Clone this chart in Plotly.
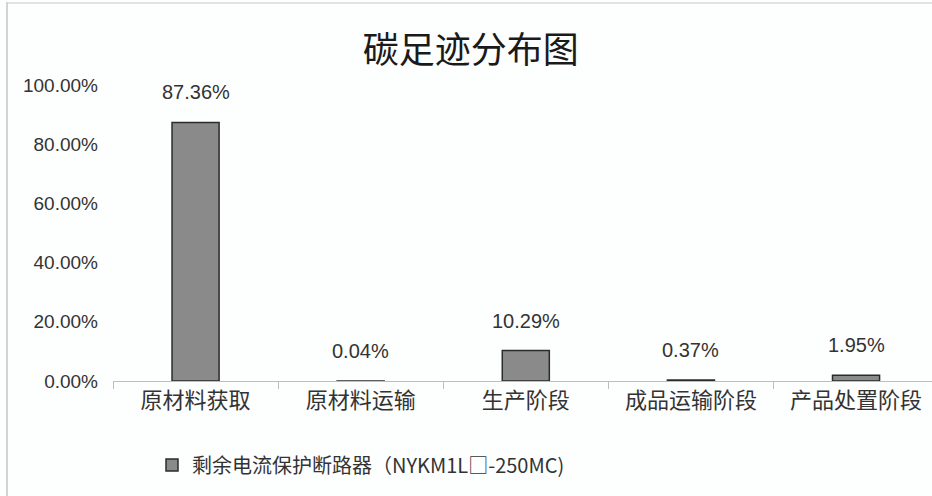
import plotly.graph_objects as go

categories = ["原材料获取", "原材料运输", "生产阶段", "成品运输阶段", "产品处置阶段"]
values = [87.36, 0.04, 10.29, 0.37, 1.95]
value_labels = ["87.36%", "0.04%", "10.29%", "0.37%", "1.95%"]
series_name = "剩余电流保护断路器（NYKM1L□-250MC)"
title_text = "碳足迹分布图"
y_ticks = [0, 20, 40, 60, 80, 100]
y_tick_labels = ["0.00%", "20.00%", "40.00%", "60.00%", "80.00%", "100.00%"]

FONT = "Liberation Sans, Arial, Noto Sans CJK SC, sans-serif"
CJK = "Noto Sans CJK SC, sans-serif"

fig = go.Figure()
fig.add_trace(go.Bar(
    x=categories, y=values, name=series_name, width=0.285,
    marker=dict(color="#8a8a8a", line=dict(color="#2b2b2b", width=1.5)),
    showlegend=True,
))

for c, v, t in zip(categories, values, value_labels):
    fig.add_annotation(x=c, y=v, text=t, showarrow=False, yanchor="middle",
                       yshift=30, font=dict(family=FONT, size=20, color="#333333"))

fig.update_layout(
    width=932, height=496,
    margin=dict(l=113, r=0, t=85, b=115),
    paper_bgcolor="#fdfefe", plot_bgcolor="#fdfefe",
    title=dict(text=title_text, x=0.505, xanchor="center", y=1 - 50 / 496, yanchor="middle",
               yref="container", font=dict(family=CJK, size=36, color="#1a1a1a")),
    xaxis=dict(range=[-0.5, 4.46], showline=True, linecolor="#bdbdbd", linewidth=1,
               ticks="outside", tickson="boundaries", ticklen=7, tickcolor="#bdbdbd",
               tickfont=dict(family=CJK, size=22, color="#333333"), showgrid=False),
    yaxis=dict(range=[0, 100], tickvals=y_ticks, ticktext=y_tick_labels, showgrid=False,
               zeroline=False, showline=False, ticks="", ticklabelstandoff=14,
               tickfont=dict(family=FONT, size=19, color="#333333")),
    legend=dict(orientation="h", xref="container", yref="container", x=152 / 932,
                y=1 - 465 / 496, xanchor="left", yanchor="middle",
                font=dict(family=CJK, size=20, color="#333333"), bgcolor="rgba(0,0,0,0)"),
    shapes=[
        dict(type="line", xref="paper", yref="paper", x0=-106 / 819, x1=-106 / 819,
             y0=(381 - 2) / 296, y1=(381 - 500) / 296, line=dict(color="#c4c4c4", width=1.5)),
        dict(type="line", xref="paper", yref="paper", x0=-106 / 819, x1=1.02,
             y0=(381 - 3) / 296, y1=(381 - 3) / 296, line=dict(color="#d8d8d8", width=1.5)),
    ],
)

fig.write_html("out.html", config={"displayModeBar": False},
               post_script="document.body.style.margin='0';document.body.style.padding='0';")
